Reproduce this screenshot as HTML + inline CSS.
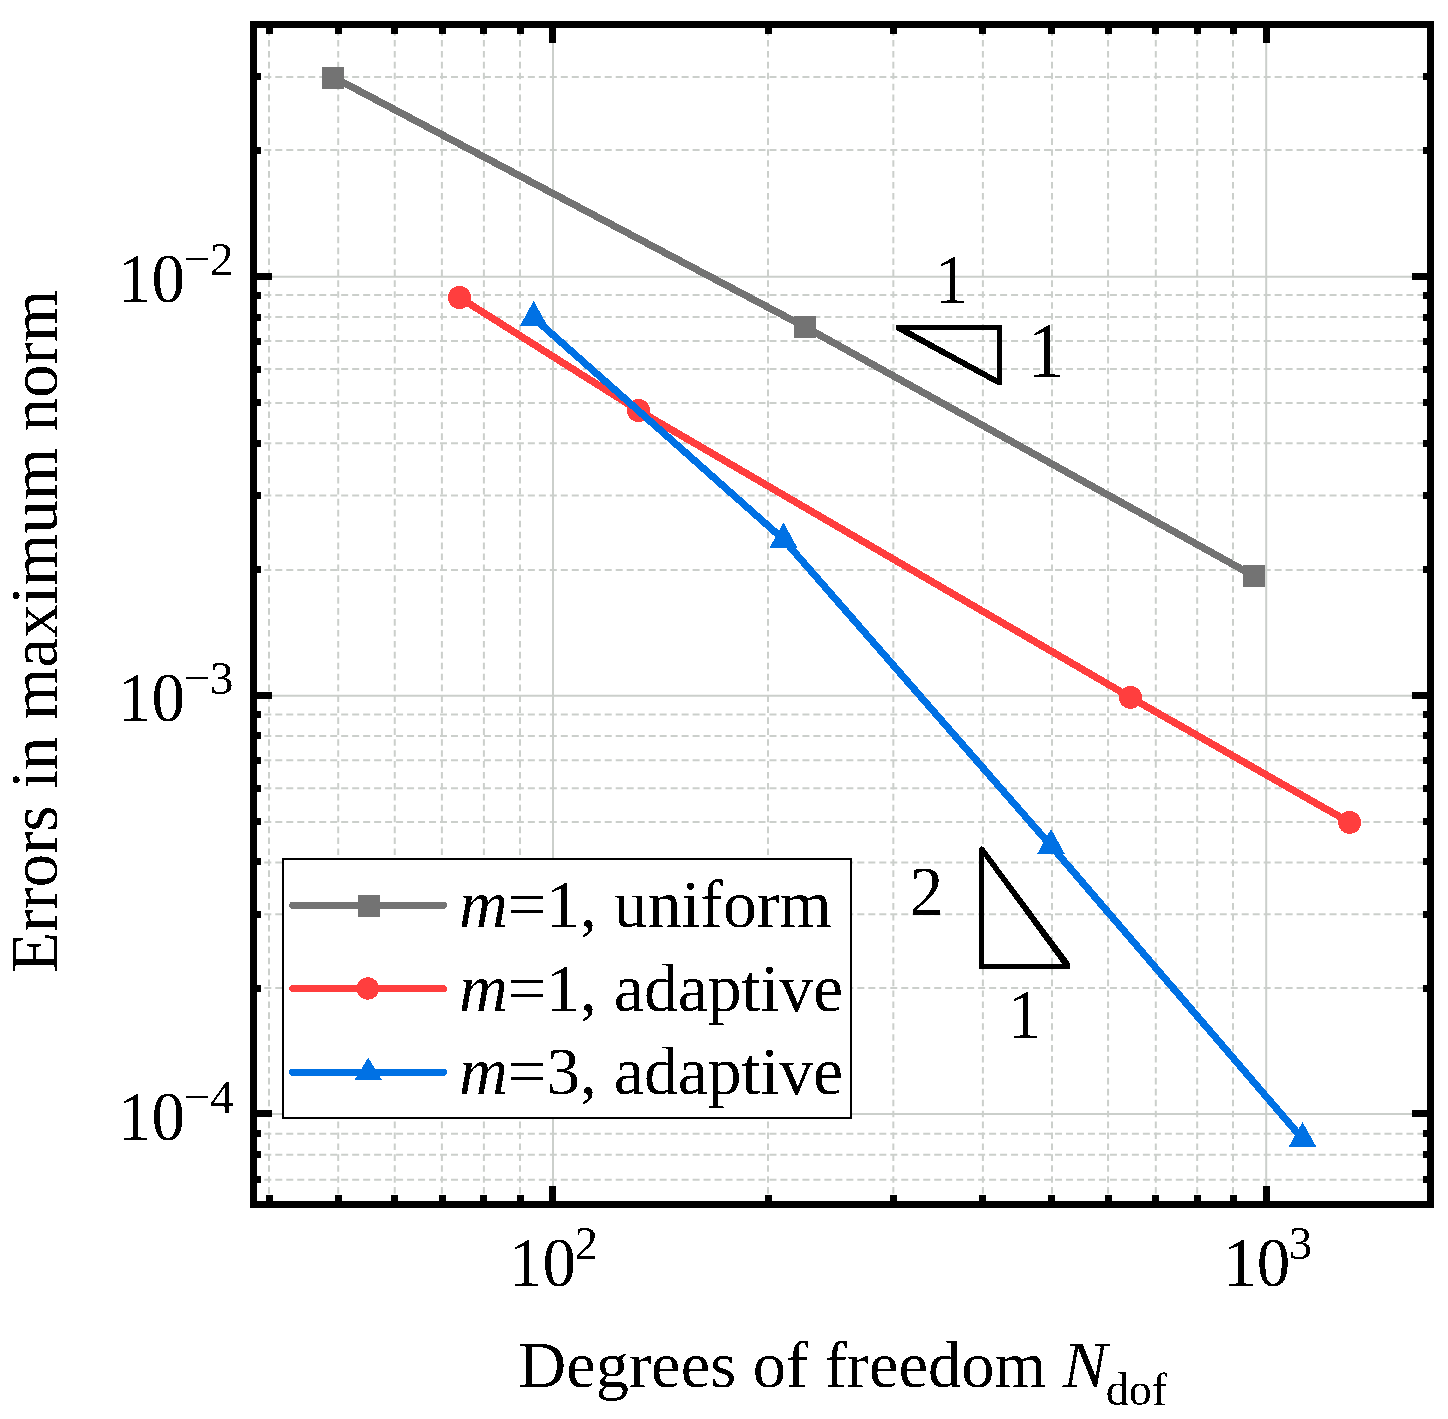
<!DOCTYPE html><html><head><meta charset="utf-8"><style>html,body{margin:0;padding:0;background:#fff;}svg{display:block;will-change:transform;}text{font-family:"Liberation Serif",serif;}</style></head><body>
<svg width="1448" height="1419" viewBox="0 0 1448 1419">
<rect x="0" y="0" width="1448" height="1419" fill="#fff"/>
<defs><filter id="bin" filterUnits="userSpaceOnUse" x="0" y="0" width="1448" height="1419"><feComponentTransfer><feFuncA type="discrete" tableValues="0 1"/></feComponentTransfer></filter></defs>
<defs><clipPath id="pc"><rect x="257.0" y="28.0" width="1170.0" height="1173.0"/></clipPath></defs>
<g clip-path="url(#pc)">
<line x1="269.00" y1="7.225" x2="269.00" y2="1206.00" stroke="#cbcfcb" stroke-width="2" stroke-dasharray="6.6 4.325"/>
<line x1="338.20" y1="7.225" x2="338.20" y2="1206.00" stroke="#cbcfcb" stroke-width="2" stroke-dasharray="6.6 4.325"/>
<line x1="394.76" y1="7.225" x2="394.76" y2="1206.00" stroke="#cbcfcb" stroke-width="2" stroke-dasharray="6.6 4.325"/>
<line x1="441.90" y1="7.225" x2="441.90" y2="1206.00" stroke="#cbcfcb" stroke-width="2" stroke-dasharray="6.6 4.325"/>
<line x1="483.90" y1="7.225" x2="483.90" y2="1206.00" stroke="#cbcfcb" stroke-width="2" stroke-dasharray="6.6 4.325"/>
<line x1="520.00" y1="7.225" x2="520.00" y2="1206.00" stroke="#cbcfcb" stroke-width="2" stroke-dasharray="6.6 4.325"/>
<line x1="768.00" y1="7.225" x2="768.00" y2="1206.00" stroke="#cbcfcb" stroke-width="2" stroke-dasharray="6.6 4.325"/>
<line x1="893.33" y1="7.225" x2="893.33" y2="1206.00" stroke="#cbcfcb" stroke-width="2" stroke-dasharray="6.6 4.325"/>
<line x1="982.90" y1="7.225" x2="982.90" y2="1206.00" stroke="#cbcfcb" stroke-width="2" stroke-dasharray="6.6 4.325"/>
<line x1="1052.00" y1="7.225" x2="1052.00" y2="1206.00" stroke="#cbcfcb" stroke-width="2" stroke-dasharray="6.6 4.325"/>
<line x1="1108.06" y1="7.225" x2="1108.06" y2="1206.00" stroke="#cbcfcb" stroke-width="2" stroke-dasharray="6.6 4.325"/>
<line x1="1155.81" y1="7.225" x2="1155.81" y2="1206.00" stroke="#cbcfcb" stroke-width="2" stroke-dasharray="6.6 4.325"/>
<line x1="1197.17" y1="7.225" x2="1197.17" y2="1206.00" stroke="#cbcfcb" stroke-width="2" stroke-dasharray="6.6 4.325"/>
<line x1="1233.00" y1="7.225" x2="1233.00" y2="1206.00" stroke="#cbcfcb" stroke-width="2" stroke-dasharray="6.6 4.325"/>
<line x1="242.336" y1="24.36" x2="1432.00" y2="24.36" stroke="#cbcfcb" stroke-width="2" stroke-dasharray="7.0 3.982"/>
<line x1="242.336" y1="76.90" x2="1432.00" y2="76.90" stroke="#cbcfcb" stroke-width="2" stroke-dasharray="7.0 3.982"/>
<line x1="242.336" y1="150.00" x2="1432.00" y2="150.00" stroke="#cbcfcb" stroke-width="2" stroke-dasharray="7.0 3.982"/>
<line x1="242.336" y1="570.00" x2="1432.00" y2="570.00" stroke="#cbcfcb" stroke-width="2" stroke-dasharray="7.0 3.982"/>
<line x1="242.336" y1="495.48" x2="1432.00" y2="495.48" stroke="#cbcfcb" stroke-width="2" stroke-dasharray="7.0 3.982"/>
<line x1="242.336" y1="443.16" x2="1432.00" y2="443.16" stroke="#cbcfcb" stroke-width="2" stroke-dasharray="7.0 3.982"/>
<line x1="242.336" y1="403.00" x2="1432.00" y2="403.00" stroke="#cbcfcb" stroke-width="2" stroke-dasharray="7.0 3.982"/>
<line x1="242.336" y1="369.00" x2="1432.00" y2="369.00" stroke="#cbcfcb" stroke-width="2" stroke-dasharray="7.0 3.982"/>
<line x1="242.336" y1="341.00" x2="1432.00" y2="341.00" stroke="#cbcfcb" stroke-width="2" stroke-dasharray="7.0 3.982"/>
<line x1="242.336" y1="316.90" x2="1432.00" y2="316.90" stroke="#cbcfcb" stroke-width="2" stroke-dasharray="7.0 3.982"/>
<line x1="242.336" y1="295.10" x2="1432.00" y2="295.10" stroke="#cbcfcb" stroke-width="2" stroke-dasharray="7.0 3.982"/>
<line x1="242.336" y1="988.03" x2="1432.00" y2="988.03" stroke="#cbcfcb" stroke-width="2" stroke-dasharray="7.0 3.982"/>
<line x1="242.336" y1="914.28" x2="1432.00" y2="914.28" stroke="#cbcfcb" stroke-width="2" stroke-dasharray="7.0 3.982"/>
<line x1="242.336" y1="862.60" x2="1432.00" y2="862.60" stroke="#cbcfcb" stroke-width="2" stroke-dasharray="7.0 3.982"/>
<line x1="242.336" y1="822.00" x2="1432.00" y2="822.00" stroke="#cbcfcb" stroke-width="2" stroke-dasharray="7.0 3.982"/>
<line x1="242.336" y1="788.21" x2="1432.00" y2="788.21" stroke="#cbcfcb" stroke-width="2" stroke-dasharray="7.0 3.982"/>
<line x1="242.336" y1="760.17" x2="1432.00" y2="760.17" stroke="#cbcfcb" stroke-width="2" stroke-dasharray="7.0 3.982"/>
<line x1="242.336" y1="735.89" x2="1432.00" y2="735.89" stroke="#cbcfcb" stroke-width="2" stroke-dasharray="7.0 3.982"/>
<line x1="242.336" y1="714.60" x2="1432.00" y2="714.60" stroke="#cbcfcb" stroke-width="2" stroke-dasharray="7.0 3.982"/>
<line x1="242.336" y1="1133.70" x2="1432.00" y2="1133.70" stroke="#cbcfcb" stroke-width="2" stroke-dasharray="7.0 3.982"/>
<line x1="242.336" y1="1154.80" x2="1432.00" y2="1154.80" stroke="#cbcfcb" stroke-width="2" stroke-dasharray="7.0 3.982"/>
<line x1="242.336" y1="1179.80" x2="1432.00" y2="1179.80" stroke="#cbcfcb" stroke-width="2" stroke-dasharray="7.0 3.982"/>
<line x1="242.336" y1="1207.01" x2="1432.00" y2="1207.01" stroke="#cbcfcb" stroke-width="2" stroke-dasharray="7.0 3.982"/>
<line x1="553.00" y1="1201.00" x2="553.00" y2="28.00" stroke="#cbcfcb" stroke-width="2"/>
<line x1="1266.20" y1="1201.00" x2="1266.20" y2="28.00" stroke="#cbcfcb" stroke-width="2"/>
<line x1="257.00" y1="276.80" x2="1427.00" y2="276.80" stroke="#cbcfcb" stroke-width="2"/>
<line x1="257.00" y1="695.80" x2="1427.00" y2="695.80" stroke="#cbcfcb" stroke-width="2"/>
<line x1="257.00" y1="1114.00" x2="1427.00" y2="1114.00" stroke="#cbcfcb" stroke-width="2"/>
</g>
<g fill="#000" shape-rendering="crispEdges">
<rect x="266" y="1195" width="7" height="6"/>
<rect x="266" y="28" width="7" height="6"/>
<rect x="335" y="1195" width="7" height="6"/>
<rect x="335" y="28" width="7" height="6"/>
<rect x="391" y="1195" width="7" height="6"/>
<rect x="391" y="28" width="7" height="6"/>
<rect x="439" y="1195" width="7" height="6"/>
<rect x="439" y="28" width="7" height="6"/>
<rect x="480" y="1195" width="7" height="6"/>
<rect x="480" y="28" width="7" height="6"/>
<rect x="517" y="1195" width="7" height="6"/>
<rect x="517" y="28" width="7" height="6"/>
<rect x="765" y="1195" width="7" height="6"/>
<rect x="765" y="28" width="7" height="6"/>
<rect x="890" y="1195" width="7" height="6"/>
<rect x="890" y="28" width="7" height="6"/>
<rect x="979" y="1195" width="7" height="6"/>
<rect x="979" y="28" width="7" height="6"/>
<rect x="1048" y="1195" width="7" height="6"/>
<rect x="1048" y="28" width="7" height="6"/>
<rect x="1105" y="1195" width="7" height="6"/>
<rect x="1105" y="28" width="7" height="6"/>
<rect x="1152" y="1195" width="7" height="6"/>
<rect x="1152" y="28" width="7" height="6"/>
<rect x="1194" y="1195" width="7" height="6"/>
<rect x="1194" y="28" width="7" height="6"/>
<rect x="1230" y="1195" width="7" height="6"/>
<rect x="1230" y="28" width="7" height="6"/>
<rect x="549" y="1186" width="7" height="15"/>
<rect x="549" y="28" width="7" height="15"/>
<rect x="1263" y="1186" width="7" height="15"/>
<rect x="1263" y="28" width="7" height="15"/>
<rect x="257" y="73" width="4" height="7"/>
<rect x="1423" y="73" width="4" height="7"/>
<rect x="257" y="147" width="4" height="7"/>
<rect x="1423" y="147" width="4" height="7"/>
<rect x="257" y="566" width="4" height="7"/>
<rect x="1423" y="566" width="4" height="7"/>
<rect x="257" y="492" width="4" height="7"/>
<rect x="1423" y="492" width="4" height="7"/>
<rect x="257" y="440" width="4" height="7"/>
<rect x="1423" y="440" width="4" height="7"/>
<rect x="257" y="399" width="4" height="7"/>
<rect x="1423" y="399" width="4" height="7"/>
<rect x="257" y="366" width="4" height="7"/>
<rect x="1423" y="366" width="4" height="7"/>
<rect x="257" y="338" width="4" height="7"/>
<rect x="1423" y="338" width="4" height="7"/>
<rect x="257" y="314" width="4" height="7"/>
<rect x="1423" y="314" width="4" height="7"/>
<rect x="257" y="292" width="4" height="7"/>
<rect x="1423" y="292" width="4" height="7"/>
<rect x="257" y="985" width="4" height="7"/>
<rect x="1423" y="985" width="4" height="7"/>
<rect x="257" y="911" width="4" height="7"/>
<rect x="1423" y="911" width="4" height="7"/>
<rect x="257" y="858" width="4" height="7"/>
<rect x="1423" y="858" width="4" height="7"/>
<rect x="257" y="818" width="4" height="7"/>
<rect x="1423" y="818" width="4" height="7"/>
<rect x="257" y="785" width="4" height="7"/>
<rect x="1423" y="785" width="4" height="7"/>
<rect x="257" y="757" width="4" height="7"/>
<rect x="1423" y="757" width="4" height="7"/>
<rect x="257" y="732" width="4" height="7"/>
<rect x="1423" y="732" width="4" height="7"/>
<rect x="257" y="711" width="4" height="7"/>
<rect x="1423" y="711" width="4" height="7"/>
<rect x="257" y="1130" width="4" height="7"/>
<rect x="1423" y="1130" width="4" height="7"/>
<rect x="257" y="1151" width="4" height="7"/>
<rect x="1423" y="1151" width="4" height="7"/>
<rect x="257" y="1176" width="4" height="7"/>
<rect x="1423" y="1176" width="4" height="7"/>
<rect x="257" y="273" width="15" height="7"/>
<rect x="1412" y="273" width="15" height="7"/>
<rect x="257" y="692" width="15" height="7"/>
<rect x="1412" y="692" width="15" height="7"/>
<rect x="257" y="1110" width="15" height="7"/>
<rect x="1412" y="1110" width="15" height="7"/>
</g>
<g shape-rendering="crispEdges">
<path d="M333,77.0 L805,326.9 L1254,576" fill="none" stroke="#737373" stroke-width="7.2" stroke-linejoin="round"/>
<rect x="322.0" y="66.95" width="22" height="22" fill="#737373"/>
<rect x="794.0" y="315.9" width="22" height="22" fill="#737373"/>
<rect x="1243.0" y="565.0" width="22" height="22" fill="#737373"/>
<path d="M459.5,297.5 L638.5,410.5 L1130.5,697.4 L1349.6,822.4" fill="none" stroke="#ff3e3e" stroke-width="7.2" stroke-linejoin="round"/>
<circle cx="459.5" cy="297.5" r="11.5" fill="#ff3e3e"/>
<circle cx="638.5" cy="410.5" r="11.5" fill="#ff3e3e"/>
<circle cx="1130.5" cy="697.4" r="11.5" fill="#ff3e3e"/>
<circle cx="1349.6" cy="822.4" r="11.5" fill="#ff3e3e"/>
<path d="M533.7,317.8 L783.5,539.5 L1051,845.8 L1302.5,1138.8" fill="none" stroke="#0071e4" stroke-width="7.2" stroke-linejoin="round"/>
<path d="M533.7,300.90 L547.45,325.80 L519.95,325.80 Z" fill="#0071e4"/>
<path d="M783.5,522.60 L797.25,547.50 L769.75,547.50 Z" fill="#0071e4"/>
<path d="M1051,828.90 L1064.75,853.80 L1037.25,853.80 Z" fill="#0071e4"/>
<path d="M1302.5,1121.90 L1316.25,1146.80 L1288.75,1146.80 Z" fill="#0071e4"/>
</g>
<rect x="253.5" y="24.5" width="1177.0" height="1180.0" fill="none" stroke="#000" stroke-width="7" shape-rendering="crispEdges"/>
<rect x="283" y="859" width="568" height="258.6" fill="#fff" stroke="#000" stroke-width="2" shape-rendering="crispEdges"/>
<g shape-rendering="crispEdges">
<line x1="292.6" y1="905.4" x2="443.5" y2="905.4" stroke="#737373" stroke-width="7" stroke-linecap="round"/>
<rect x="358.0" y="894.8" width="22" height="22" fill="#737373"/>
<line x1="292.6" y1="988.5" x2="443.5" y2="988.5" stroke="#ff3e3e" stroke-width="7" stroke-linecap="round"/>
<circle cx="367.9" cy="988.5" r="11.15" fill="#ff3e3e"/>
<line x1="292.6" y1="1072.3" x2="443.5" y2="1072.3" stroke="#0071e4" stroke-width="7" stroke-linecap="round"/>
<path d="M368.2,1057.60 L381.90,1080.10 L354.50,1080.10 Z" fill="#0071e4"/>
</g>
<g shape-rendering="crispEdges">
<path d="M896,325.1 L1001.9,325.1 L1001.9,384.75 L997.06,384.75 L896,329.9 Z M908.8,329.9 L997.06,378.2 L997.06,329.9 Z" fill="#000" fill-rule="evenodd"/>
<path d="M979.1,848.5 L981.4,846.1 L983.5,847 L1069.5,962.5 L1069.5,968.75 L979.1,968.75 Z M983.9,856.6 L983.9,964 L1062.3,964 Z" fill="#000" fill-rule="evenodd"/>
</g>
<g filter="url(#bin)">
<text x="459.1" y="927.0" font-size="67.7"><tspan font-style="italic">m</tspan>=1, uniform</text>
<text x="459.1" y="1010.5" font-size="67.7"><tspan font-style="italic">m</tspan>=1, adaptive</text>
<text x="459.1" y="1093.7" font-size="67.7"><tspan font-style="italic">m</tspan>=3, adaptive</text>
<text transform="translate(951.50,302.90) scale(1,1.047)" font-size="67" text-anchor="middle">1</text>
<text transform="translate(1046.20,376.00) scale(1,1.047)" font-size="74" text-anchor="middle">1</text>
<text transform="translate(926.60,915.00) scale(1,1.047)" font-size="67" text-anchor="middle">2</text>
<text transform="translate(1024.60,1037.80) scale(1,1.047)" font-size="67" text-anchor="middle">1</text>
<text transform="translate(117.90,302.10) scale(1,1.047)" font-size="67" text-anchor="start">10</text><text x="183.5" y="275.1" font-size="47">&#8722;2</text>
<text transform="translate(117.90,720.90) scale(1,1.047)" font-size="67" text-anchor="start">10</text><text x="183.5" y="693.9" font-size="47">&#8722;3</text>
<text transform="translate(117.90,1139.70) scale(1,1.047)" font-size="67" text-anchor="start">10</text><text x="183.5" y="1112.7" font-size="47">&#8722;4</text>
<text transform="translate(509.00,1286.20) scale(1,1.047)" font-size="67" text-anchor="start">10</text><text x="574.6" y="1259.2" font-size="47">2</text>
<text transform="translate(1223.20,1286.20) scale(1,1.047)" font-size="67" text-anchor="start">10</text><text x="1288.8" y="1259.2" font-size="47">3</text>
<text x="518.2" y="1387.2" font-size="66.5">Degrees of freedom <tspan font-style="italic">N</tspan><tspan font-size="46" dx="-1.5" dy="18">dof</tspan></text>
<text transform="translate(56.9,972.8) rotate(-90)" x="0" y="0" font-size="67">Errors in maximum norm</text>
</g>
</svg></body></html>
